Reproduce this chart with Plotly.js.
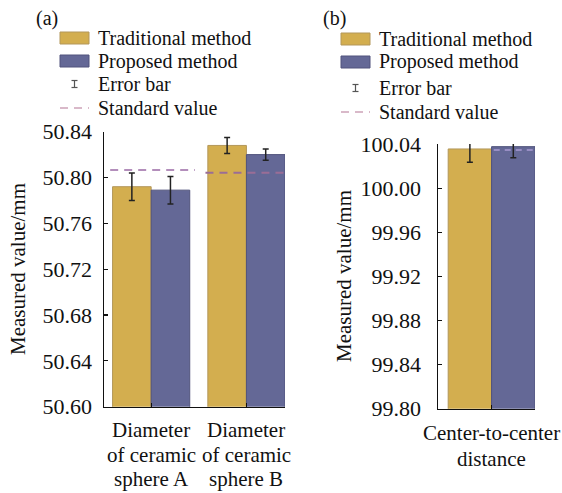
<!DOCTYPE html>
<html>
<head>
<meta charset="utf-8">
<script src="https://cdn.plot.ly/plotly-3.0.1.min.js"></script>
<style>
  html, body { margin: 0; padding: 0; background: #fff; }
  #chart { width: 562px; height: 493px; }
</style>
</head>
<body>
<div id="chart"></div>
<script>
// Panel (a): sphere diameters
const catsA = ['Diameter of ceramic sphere A', 'Diameter of ceramic sphere B'];
const catLinesA = [['Diameter', 'of ceramic', 'sphere A'], ['Diameter', 'of ceramic', 'sphere B']];
const tradA = [50.792, 50.828];
const tradErrA = [0.012, 0.007];
const propA = [50.789, 50.820];
const propErrA = [0.012, 0.005];
const stdA = [50.8065, 50.8042];

// Panel (b): center-to-center distance
const catsB = ['Center-to-center distance'];
const catLinesB = [['Center-to-center', 'distance']];
const tradB = [100.0355];
const tradErrB = [0.012];
const propB = [100.0376];
const propErrB = [0.010];
const stdB = [100.0345];

const yTicksA = [50.60, 50.64, 50.68, 50.72, 50.76, 50.80, 50.84];
const yTicksB = [99.80, 99.84, 99.88, 99.92, 99.96, 100.00, 100.04];

const legendLabels = ['Traditional method', 'Proposed method', 'Error bar', 'Standard value'];

const GOLD = '#d3ae4f';
const GOLD_EDGE = '#b3975a';
const BLUE = '#646896';
const BLUE_EDGE = '#50537c';
const FONT = 'Liberation Serif';
const W = 562, H = 493;

function bar(x, y, err, color, edge, xa, ya) {
  return {
    type: 'bar', x: x, y: y, xaxis: xa, yaxis: ya,
    marker: {color: color, line: {color: edge, width: 1}},
    error_y: {type: 'data', array: err, visible: true, color: '#222', thickness: 1.5, width: 3},
    showlegend: false, cliponaxis: false, hoverinfo: 'skip'
  };
}

const data = [
  bar(catsA, tradA, tradErrA, GOLD, GOLD_EDGE, 'x', 'y'),
  bar(catsA, propA, propErrA, BLUE, BLUE_EDGE, 'x', 'y'),
  bar(catsB, tradB, tradErrB, GOLD, GOLD_EDGE, 'x2', 'y2'),
  bar(catsB, propB, propErrB, BLUE, BLUE_EDGE, 'x2', 'y2')
];

const px = v => v / W;
const py = v => (H - v) / H;

const shapes = [];
const annotations = [];

// Standard value reference lines
const stdColorsA = ['#b38ebb', '#9a6d96'];
stdA.forEach((v, i) => {
  shapes.push({type: 'line', xref: 'x', yref: 'y', x0: i - 0.43, x1: i + 0.46, y0: v, y1: v,
    line: {color: stdColorsA[i], width: 2, dash: '8px,6px'}, layer: 'above'});
});
stdB.forEach((v, i) => {
  shapes.push({type: 'line', xref: 'x2', yref: 'y2', x0: i + 0.02, x1: i + 0.39, y0: v, y1: v,
    line: {color: '#a99ad4', width: 1.5, dash: '6px,5px'}, layer: 'above'});
});

// Category labels, one line per annotation for tight line spacing
function catLabels(cats, lines, xref, rowsY) {
  cats.forEach((c, i) => {
    lines[i].forEach((t, k) => {
      annotations.push({xref: xref, yref: 'paper', x: c, y: py(rowsY[k]), text: t,
        showarrow: false, xanchor: 'center', yanchor: 'middle',
        font: {family: FONT, size: 21, color: '#111'}});
    });
  });
}
catLabels(catsA, catLinesA, 'x', [430, 455, 479]);
catLabels(catsB, catLinesB, 'x2', [433, 459]);

// Hand-built legends for both panels
function legend(x0, rows, label, labelX, labelY) {
  annotations.push({xref: 'paper', yref: 'paper', x: px(labelX), y: py(labelY), text: label,
    showarrow: false, xanchor: 'left', yanchor: 'middle', font: {family: FONT, size: 20, color: '#111'}});
  const sw = 29;
  // colour patches
  [[GOLD, GOLD_EDGE], [BLUE, BLUE_EDGE]].forEach((c, k) => {
    shapes.push({type: 'rect', xref: 'paper', yref: 'paper',
      x0: px(x0), x1: px(x0 + sw), y0: py(rows[k] + 6), y1: py(rows[k] - 6),
      fillcolor: c[0], line: {color: c[1], width: 1}});
  });
  // error bar glyph
  const cx = x0 + sw / 2, ey = rows[2];
  shapes.push({type: 'line', xref: 'paper', yref: 'paper', x0: px(cx), x1: px(cx), y0: py(ey - 3.5), y1: py(ey + 3.5), line: {color: '#555', width: 1.2}});
  shapes.push({type: 'line', xref: 'paper', yref: 'paper', x0: px(cx - 3), x1: px(cx + 3), y0: py(ey - 3.5), y1: py(ey - 3.5), line: {color: '#555', width: 1.2}});
  shapes.push({type: 'line', xref: 'paper', yref: 'paper', x0: px(cx - 3), x1: px(cx + 3), y0: py(ey + 3.5), y1: py(ey + 3.5), line: {color: '#555', width: 1.2}});
  // dashed glyph
  shapes.push({type: 'line', xref: 'paper', yref: 'paper', x0: px(x0), x1: px(x0 + sw), y0: py(rows[3]), y1: py(rows[3]),
    line: {color: '#d9b9c9', width: 2, dash: '8px,6px'}});
  legendLabels.forEach((t, k) => {
    annotations.push({xref: 'paper', yref: 'paper', x: px(x0 + 36), y: py(rows[k]), text: t,
      showarrow: false, xanchor: 'left', yanchor: 'middle', font: {family: FONT, size: 20, color: '#111'}});
  });
}
legend(60, [38, 61, 84, 108], '(a)', 34, 18);
legend(341, [39, 62, 88, 112], '(b)', 321, 18);

// Axis titles
[[18, 269], [344, 276]].forEach(p => {
  annotations.push({xref: 'paper', yref: 'paper', x: px(p[0]), y: py(p[1]), text: 'Measured value/mm',
    textangle: -90, showarrow: false, xanchor: 'center', yanchor: 'middle',
    font: {family: FONT, size: 21, color: '#111'}});
});

const xBase = {
  type: 'category', showline: true, linecolor: '#111', linewidth: 1.5, mirror: false,
  ticks: 'inside', ticklen: 4, tickcolor: '#111', tickwidth: 1.2,
  showgrid: false, zeroline: false, fixedrange: true, showticklabels: false
};
const yBase = {
  showline: true, linecolor: '#111', linewidth: 1.5,
  ticks: 'inside', ticklen: 4, tickcolor: '#111', tickwidth: 1.2,
  showgrid: false, zeroline: false, fixedrange: true,
  tickfont: {family: FONT, size: 22, color: '#111'}, tickformat: '.2f'
};

const layout = {
  width: W, height: H,
  margin: {l: 0, r: 0, t: 0, b: 0},
  paper_bgcolor: '#fff', plot_bgcolor: 'rgba(0,0,0,0)',
  font: {family: FONT},
  barmode: 'group', bargap: 0.19, bargroupgap: 0,
  showlegend: false,
  xaxis: Object.assign({}, xBase, {domain: [px(104), px(285)], range: [-0.495, 1.405], anchor: 'y'}),
  yaxis: Object.assign({}, yBase, {domain: [py(406.7), py(131.7)], range: [50.60, 50.84], tickvals: yTicksA, anchor: 'x', ticklabelstandoff: 6}),
  xaxis2: Object.assign({}, xBase, {domain: [px(438), px(535)], range: [-0.5, 0.405], anchor: 'y2'}),
  yaxis2: Object.assign({}, yBase, {domain: [py(408.7), py(144)], range: [99.80, 100.04], tickvals: yTicksB, anchor: 'x2', ticklabelstandoff: 11}),
  shapes: shapes,
  annotations: annotations
};

Plotly.newPlot('chart', data, layout, {staticPlot: true, displayModeBar: false});
</script>
</body>
</html>
